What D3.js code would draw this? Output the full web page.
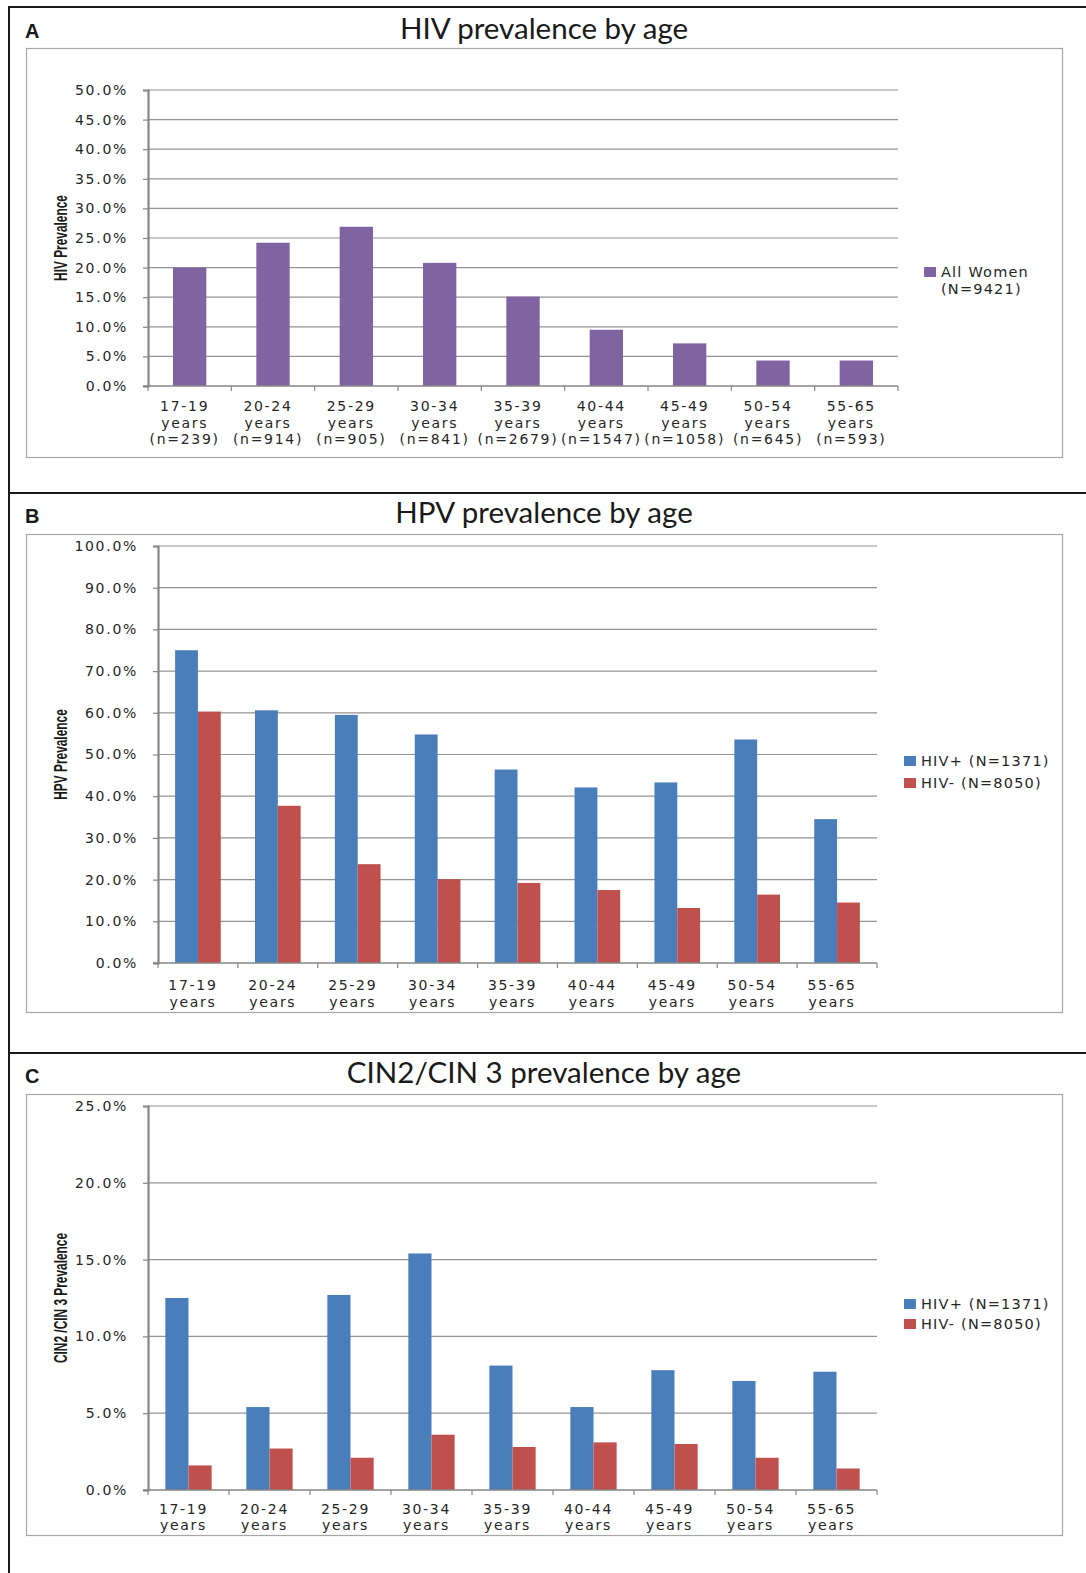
<!DOCTYPE html>
<html>
<head>
<meta charset="utf-8">
<script src="https://cdn.jsdelivr.net/npm/d3@7"></script>
<style>
  html, body { margin: 0; padding: 0; background: #fff; }
  svg { display: block; }
</style>
</head>
<body>
<svg id="fig" width="1086" height="1573"></svg>
<script>
// ---------------- DATA ----------------
const ageGroups = ["17-19", "20-24", "25-29", "30-34", "35-39", "40-44", "45-49", "50-54", "55-65"];
const hivSampleSizes = ["(n=239)", "(n=914)", "(n=905)", "(n=841)", "(n=2679)", "(n=1547)", "(n=1058)", "(n=645)", "(n=593)"];
const hivPrevalence = [20.0, 24.2, 26.9, 20.8, 15.1, 9.5, 7.2, 4.3, 4.3];
const hpvHivPositive = [75.0, 60.6, 59.5, 54.8, 46.4, 42.1, 43.3, 53.6, 34.5];
const hpvHivNegative = [60.3, 37.7, 23.7, 20.1, 19.2, 17.5, 13.2, 16.4, 14.5];
const cinHivPositive = [12.5, 5.4, 12.7, 15.4, 8.1, 5.4, 7.8, 7.1, 7.7];
const cinHivNegative = [1.6, 2.7, 2.1, 3.6, 2.8, 3.1, 3.0, 2.1, 1.4];
const hivTicks = [0, 5, 10, 15, 20, 25, 30, 35, 40, 45, 50];
const hpvTicks = [0, 10, 20, 30, 40, 50, 60, 70, 80, 90, 100];
const cinTicks = [0, 5, 10, 15, 20, 25];
const panelLetters = ["A", "B", "C"];
const panelTitles = ["HIV prevalence by age", "HPV prevalence by age", "CIN2/CIN 3 prevalence by age"];
const yAxisTitles = ["HIV Prevalence", "HPV Prevalence", "CIN2 /CIN 3 Prevalence"];
const legendAll = ["All Women", "(N=9421)"];
const legendPos = ["HIV+ (N=1371)"];
const legendNeg = ["HIV- (N=8050)"];

// ---------------- STYLE ----------------
const COL_PURPLE = "#8064A2";
const COL_BLUE = "#4A7EBB";
const COL_RED = "#C0504D";
const GRID = "#939393";
const AXIS = "#868686";
const FRAME = "#a6a6a6";
const TXT = "#262626";
const tickFont = "DejaVu Sans, Verdana, sans-serif";
const titleFont = "Lato, 'Open Sans', sans-serif";
const yTitleFont = "'Liberation Sans', Arial, sans-serif";

const svg = d3.select("#fig");

// outer figure frame lines
const outer = svg.append("g").attr("stroke", "#1a1a1a").attr("stroke-width", 2);
outer.append("line").attr("x1", 9).attr("x2", 1086).attr("y1", 7).attr("y2", 7);
outer.append("line").attr("x1", 9).attr("x2", 9).attr("y1", 6).attr("y2", 1573);
outer.append("line").attr("x1", 9).attr("x2", 1086).attr("y1", 493).attr("y2", 493);
outer.append("line").attr("x1", 9).attr("x2", 1086).attr("y1", 1053).attr("y2", 1053);

function drawPanel(p) {
  const g = svg.append("g");
  // panel letter
  g.append("text").attr("x", 25).attr("y", p.letterY)
    .attr("font-family", "'Liberation Sans', Arial, sans-serif").attr("font-weight", "bold")
    .attr("font-size", 20).attr("fill", "#1a1a1a").text(p.letter);
  // title
  g.append("text").attr("x", 544).attr("y", p.titleY).attr("text-anchor", "middle")
    .attr("font-family", titleFont).attr("font-size", 29.5).attr("fill", "#1a1a1a").text(p.title);
  // chart frame
  g.append("rect").attr("x", 26.5).attr("y", p.frame[0] + 0.5)
    .attr("width", 1062 - 26).attr("height", p.frame[1] - p.frame[0])
    .attr("fill", "none").attr("stroke", FRAME).attr("stroke-width", 1.2);

  const x = d3.scaleBand().domain(ageGroups).range([p.x0, p.x1]).paddingInner(0).paddingOuter(0);
  const y = d3.scaleLinear().domain([0, d3.max(p.ticks)]).range([p.yb, p.yt]);

  // gridlines
  g.append("g").selectAll("line").data(p.ticks.filter(t => t > 0)).join("line")
    .attr("x1", p.x0).attr("x2", p.x1)
    .attr("y1", d => y(d)).attr("y2", d => y(d))
    .attr("stroke", GRID).attr("stroke-width", 1.2);

  // bars
  const nSeries = p.series.length;
  const groupW = x.bandwidth() * (nSeries / (nSeries + 1.5));
  const sub = d3.scaleBand().domain(d3.range(nSeries)).range([0, groupW]);
  p.series.forEach((s, si) => {
    g.append("g").selectAll("rect").data(s.values).join("rect")
      .attr("x", (d, i) => x(ageGroups[i]) + (x.bandwidth() - groupW) / 2 + sub(si))
      .attr("y", d => y(d))
      .attr("width", sub.bandwidth())
      .attr("height", d => y(0) - y(d))
      .attr("fill", s.color);
  });

  // y axis
  const yAxis = d3.axisLeft(y).tickValues(p.ticks).tickSize(5).tickPadding(p.tickPad)
    .tickFormat(d => d.toFixed(1) + "%");
  const ya = g.append("g").attr("transform", `translate(${p.x0},0)`).call(yAxis);
  ya.select(".domain").attr("stroke", AXIS).attr("stroke-width", 2.2);
  ya.selectAll(".tick line").attr("stroke", AXIS).attr("stroke-width", 1.2);
  ya.selectAll(".tick text").attr("font-family", tickFont).attr("font-size", 14)
    .attr("letter-spacing", "1.7px").attr("fill", TXT);

  // x axis
  const xa = g.append("g").attr("transform", `translate(0,${p.yb})`);
  xa.append("line").attr("x1", p.x0 - 5).attr("x2", p.x1).attr("y1", 0).attr("y2", 0)
    .attr("stroke", AXIS).attr("stroke-width", 1.6);
  const bounds = ageGroups.map(a => x(a)).concat([p.x1]);
  xa.selectAll("line.tk").data(bounds).join("line").attr("class", "tk")
    .attr("x1", d => d).attr("x2", d => d).attr("y1", 0).attr("y2", 5)
    .attr("stroke", AXIS).attr("stroke-width", 1.2);
  const labels = xa.selectAll("text.xl").data(ageGroups).join("text").attr("class", "xl")
    .attr("text-anchor", "middle")
    .attr("font-family", tickFont).attr("font-size", 14).attr("letter-spacing", "1.7px").attr("fill", TXT);
  labels.each(function (d, i) {
    const t = d3.select(this);
    const lines = [d, "years"].concat(p.extra ? [p.extra[i]] : []);
    lines.forEach((ln, k) => {
      t.append("tspan").attr("x", x(d) + x.bandwidth() / 2 - 5)
        .attr("y", (p.xLabelY - p.yb) + k * p.xLineH).text(ln);
    });
  });

  // y axis title (condensed bold)
  g.append("text")
    .attr("transform", `translate(67,${(p.yt + p.yb) / 2}) rotate(-90) scale(0.66,1)`)
    .attr("text-anchor", "middle")
    .attr("font-family", yTitleFont).attr("font-weight", "bold")
    .attr("font-size", 18).attr("fill", "#1a1a1a").text(p.yTitle);

  // legend
  p.series.forEach((s, si) => {
    const ly = p.legendY + si * p.legendStep;
    g.append("rect").attr("x", p.legendX).attr("y", ly - 5).attr("width", 12).attr("height", 10)
      .attr("fill", s.color);
    const lt = g.append("text")
      .attr("font-family", tickFont).attr("font-size", 14.5).attr("letter-spacing", "1.2px").attr("fill", TXT);
    s.label.forEach((ln, k) => {
      lt.append("tspan").attr("x", p.legendX + 17).attr("y", ly + 5 + k * 17).text(ln);
    });
  });
}

drawPanel({
  letter: panelLetters[0], letterY: 38, title: panelTitles[0], titleY: 39,
  frame: [48, 457], x0: 148, x1: 898, yt: 90, yb: 386, ticks: hivTicks, tickPad: 15,
  series: [{ values: hivPrevalence, color: COL_PURPLE, label: legendAll }],
  extra: hivSampleSizes, xLabelY: 411, xLineH: 16.5, yTitle: yAxisTitles[0],
  legendX: 924, legendY: 272, legendStep: 20
});

drawPanel({
  letter: panelLetters[1], letterY: 523, title: panelTitles[1], titleY: 523,
  frame: [534, 1012], x0: 158, x1: 877, yt: 546, yb: 963, ticks: hpvTicks, tickPad: 15,
  series: [
    { values: hpvHivPositive, color: COL_BLUE, label: legendPos },
    { values: hpvHivNegative, color: COL_RED, label: legendNeg }
  ],
  extra: null, xLabelY: 990, xLineH: 16.5, yTitle: yAxisTitles[1],
  legendX: 904, legendY: 761, legendStep: 22
});

drawPanel({
  letter: panelLetters[2], letterY: 1083, title: panelTitles[2], titleY: 1083,
  frame: [1094, 1535], x0: 148, x1: 877, yt: 1106, yb: 1490, ticks: cinTicks, tickPad: 15,
  series: [
    { values: cinHivPositive, color: COL_BLUE, label: legendPos },
    { values: cinHivNegative, color: COL_RED, label: legendNeg }
  ],
  extra: null, xLabelY: 1514, xLineH: 16, yTitle: yAxisTitles[2],
  legendX: 904, legendY: 1304, legendStep: 20
});
</script>
</body>
</html>
